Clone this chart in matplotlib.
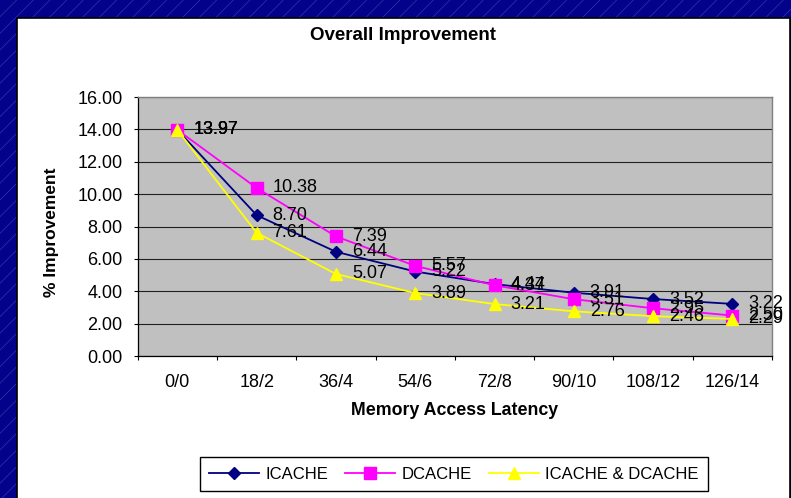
import matplotlib
matplotlib.use("Agg")
import matplotlib.pyplot as plt
from matplotlib.patches import Rectangle
import numpy as np

plt.rcParams['font.family'] = ['Liberation Sans', 'DejaVu Sans']
plt.rcParams['hatch.linewidth'] = 0.4

latency = ["0/0", "18/2", "36/4", "54/6", "72/8", "90/10", "108/12", "126/14"]
icache = [13.97, 8.70, 6.44, 5.22, 4.44, 3.91, 3.52, 3.22]
dcache = [13.97, 10.38, 7.39, 5.57, 4.37, 3.51, 2.95, 2.50]
both = [13.97, 7.61, 5.07, 3.89, 3.21, 2.76, 2.46, 2.29]
yticks = [0, 2, 4, 6, 8, 10, 12, 14, 16]

fig = plt.figure(figsize=(7.91, 4.98), dpi=100)

# slide background and white chart panel
fig.patches.append(Rectangle((0, 0), 1, 1, transform=fig.transFigure,
                             facecolor='#02028a', edgecolor='#3346b0',
                             hatch='//', linewidth=0, zorder=-10))
fig.patches.append(Rectangle((17 / 791, -0.02), 773 / 791, 1.002 - 9 / 498,
                             transform=fig.transFigure, facecolor='white',
                             edgecolor='black', linewidth=1.2, zorder=-5))

ax = fig.add_axes([0.1741, 0.2851, 0.8019, 0.5201])
ax.set_facecolor('#c0c0c0')
x = np.arange(len(latency))

series = [
    ("ICACHE", icache, '#000080', 'D', 6),
    ("DCACHE", dcache, '#ff00ff', 's', 8.5),
    ("ICACHE & DCACHE", both, '#ffff00', '^', 9),
]
for name, vals, col, mk, ms in series:
    ax.plot(x, vals, color=col, lw=1.3, marker=mk, ms=ms,
            markeredgecolor=col, markerfacecolor=col, label=name, zorder=3)

for name, vals, col, mk, ms in series:
    for xi, v in zip(x, vals):
        ax.annotate("%.2f" % v, (xi, v), xytext=(11.5, 0),
                    textcoords='offset points', ha='left', va='center',
                    fontsize=13, color='black', zorder=5, annotation_clip=False)

ax.set_xlim(-0.5, 7.5)
ax.set_ylim(0, 16)
ax.set_yticks(yticks)
ax.set_yticklabels(["%.2f" % t for t in yticks], fontsize=13)
ax.tick_params(axis='y', direction='out', length=3, width=0.8, pad=8)
ax.yaxis.grid(True, color='#202020', lw=0.8)
ax.set_axisbelow(True)

ax.set_xticks(x)
ax.set_xticklabels(latency, fontsize=13)
ax.set_xticks(np.arange(-0.5, 8, 1), minor=True)
ax.tick_params(axis='x', which='major', length=0, pad=13)
ax.tick_params(axis='x', which='minor', direction='out', length=3, width=0.8)

for side in ('top', 'right'):
    ax.spines[side].set_color('#808080')
    ax.spines[side].set_linewidth(1)
for side in ('left', 'bottom'):
    ax.spines[side].set_color('black')
    ax.spines[side].set_linewidth(0.9)

fig.text(403 / 791, 1 - 35 / 498, "Overall Improvement", ha='center', va='center',
         fontsize=13.5, fontweight='bold')
fig.text(52 / 791, 1 - 232 / 498, "% Improvement", ha='center', va='center',
         rotation=90, fontsize=12.5, fontweight='bold')
fig.text(455 / 791, 1 - 410 / 498, "Memory Access Latency", ha='center', va='center',
         fontsize=12.8, fontweight='bold')

leg = fig.legend(loc='center', bbox_to_anchor=(454 / 791, 1 - 474 / 498), ncol=3,
                 fontsize=12, frameon=True, fancybox=False, framealpha=1,
                 edgecolor='black', handlelength=3.0, handletextpad=0.4,
                 columnspacing=1.0, borderpad=0.55)
leg.get_frame().set_linewidth(1)

fig.savefig("out.png", dpi=100)
